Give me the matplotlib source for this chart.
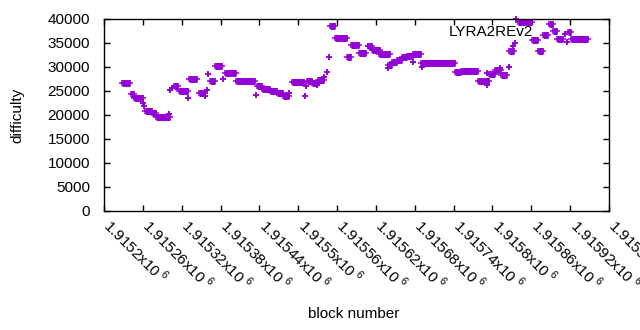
#difficulty chart for LYRA2REv2 blocks
import matplotlib
matplotlib.use('Agg')
import matplotlib.pyplot as plt
from matplotlib.transforms import ScaledTranslation

plt.rcParams['font.family'] = ['Liberation Sans', 'DejaVu Sans']
plt.rcParams['mathtext.fontset'] = 'custom'
plt.rcParams['mathtext.rm'] = 'Liberation Sans'

#runs of blocks with (roughly) the same difficulty; start==end is a single block
run_start = [1915228, 1915241, 1915247, 1915261, 1915262, 1915264, 1915274, 1915281, 1915301,
             1915302, 1915305, 1915308, 1915316, 1915330, 1915332, 1915346, 1915356, 1915359,
             1915361, 1915364, 1915371, 1915384, 1915387, 1915404, 1915434, 1915436, 1915444,
             1915456, 1915467, 1915477, 1915486, 1915490, 1915510, 1915512, 1915513, 1915522,
             1915529, 1915531, 1915540, 1915544, 1915547, 1915549, 1915557, 1915576, 1915582,
             1915594, 1915607, 1915608, 1915614, 1915625, 1915639, 1915639, 1915645, 1915653,
             1915660, 1915668, 1915677, 1915677, 1915690, 1915691, 1915742, 1915752, 1915778,
             1915792, 1915791, 1915794, 1915804, 1915813, 1915812, 1915825, 1915826, 1915832,
             1915835, 1915837, 1915840, 1915861, 1915871, 1915878, 1915888, 1915894, 1915900,
             1915912, 1915915, 1915916, 1915922]
run_end = [1915240, 1915247, 1915260, 1915261, 1915262, 1915274, 1915281, 1915302, 1915301,
           1915302, 1915305, 1915315, 1915330, 1915330, 1915344, 1915356, 1915356, 1915359,
           1915361, 1915371, 1915383, 1915384, 1915404, 1915433, 1915434, 1915444, 1915456,
           1915467, 1915477, 1915486, 1915486, 1915509, 1915510, 1915512, 1915522, 1915531,
           1915529, 1915540, 1915540, 1915544, 1915547, 1915557, 1915575, 1915581, 1915594,
           1915605, 1915607, 1915614, 1915626, 1915641, 1915639, 1915645, 1915653, 1915660,
           1915668, 1915677, 1915690, 1915677, 1915742, 1915691, 1915752, 1915778, 1915794,
           1915792, 1915791, 1915804, 1915813, 1915822, 1915812, 1915825, 1915833, 1915832,
           1915835, 1915837, 1915861, 1915871, 1915878, 1915886, 1915894, 1915900, 1915909,
           1915912, 1915915, 1915922, 1915948]
run_diff = [26600, 24300, 23600, 22600, 21900, 20900, 20400, 19600, 20200,
            25200, 25600, 26100, 25100, 23500, 27500, 24500, 24000, 25200,
            28500, 27100, 30300, 27500, 28700, 27000, 24200, 26000, 25500,
            24900, 24500, 24000, 24500, 26800, 24000, 26000, 27100, 26700,
            26300, 27200, 28000, 29000, 32000, 38500, 36000, 32000, 34500,
            33000, 34400, 34300, 33600, 32800, 29700, 30500, 31000, 31500,
            32000, 32300, 32800, 31100, 30800, 29900, 28900, 29200, 27100,
            26300, 28700, 28500, 29400, 28300, 29800, 30100, 33300, 34400,
            34900, 39900, 39300, 35600, 33300, 36700, 39000, 37500, 35900,
            36900, 35300, 37200, 35900]

xticks = list(range(1915200, 1915981, 60))
xlabels = ["%gx10$^{\\ 6}$" % (t / 1e6) for t in xticks]
yticks = list(range(0, 40001, 5000))

color = '#9400D3'
ms = 5.0

fig = plt.figure(figsize=(6.4, 3.3), dpi=100)
ax = fig.add_axes([104/640, 1 - 211/330, 505/640, 192/330])

#filled bars for runs, then + markers at both ends
ax.hlines(run_diff, run_start, run_end, colors=color, linewidth=ms, capstyle='butt', clip_on=False)
ax.plot(run_start, run_diff, '+', color=color, ms=ms, mew=1.1, clip_on=False)
ax.plot(run_end, run_diff, '+', color=color, ms=ms, mew=1.1, clip_on=False)

ax.set_xlim(1915200, 1915980)
ax.set_ylim(0, 40000)
ax.set_xticks(xticks)
ax.set_xticklabels(xlabels)
ax.set_yticks(yticks)
ax.tick_params(direction='in', length=4, width=1, top=True, right=True, labelsize=11)
ax.tick_params(axis='y', pad=10)
ax.tick_params(axis='x', pad=5)
shift = ScaledTranslation(0.10, 0.03, fig.dpi_scale_trans)
for lab in ax.get_xticklabels():
    lab.set_rotation(-45)
    lab.set_ha('left')
    lab.set_va('top')
    lab.set_rotation_mode('anchor')
    lab.set_transform(lab.get_transform() + shift)
for s in ax.spines.values():
    s.set_linewidth(1)

ax.text((533-104)/505, (211-32)/192, 'LYRA2REv2', transform=ax.transAxes,
        ha='right', va='center', fontsize=11)

ax.set_xlabel('block number', fontsize=11)
ax.set_ylabel('difficulty', fontsize=11)
ax.xaxis.set_label_coords((354-104)/505, (211-307)/192)
ax.yaxis.set_label_coords((24-104)/505, 0.5)

plt.savefig('out.png', dpi=100)
